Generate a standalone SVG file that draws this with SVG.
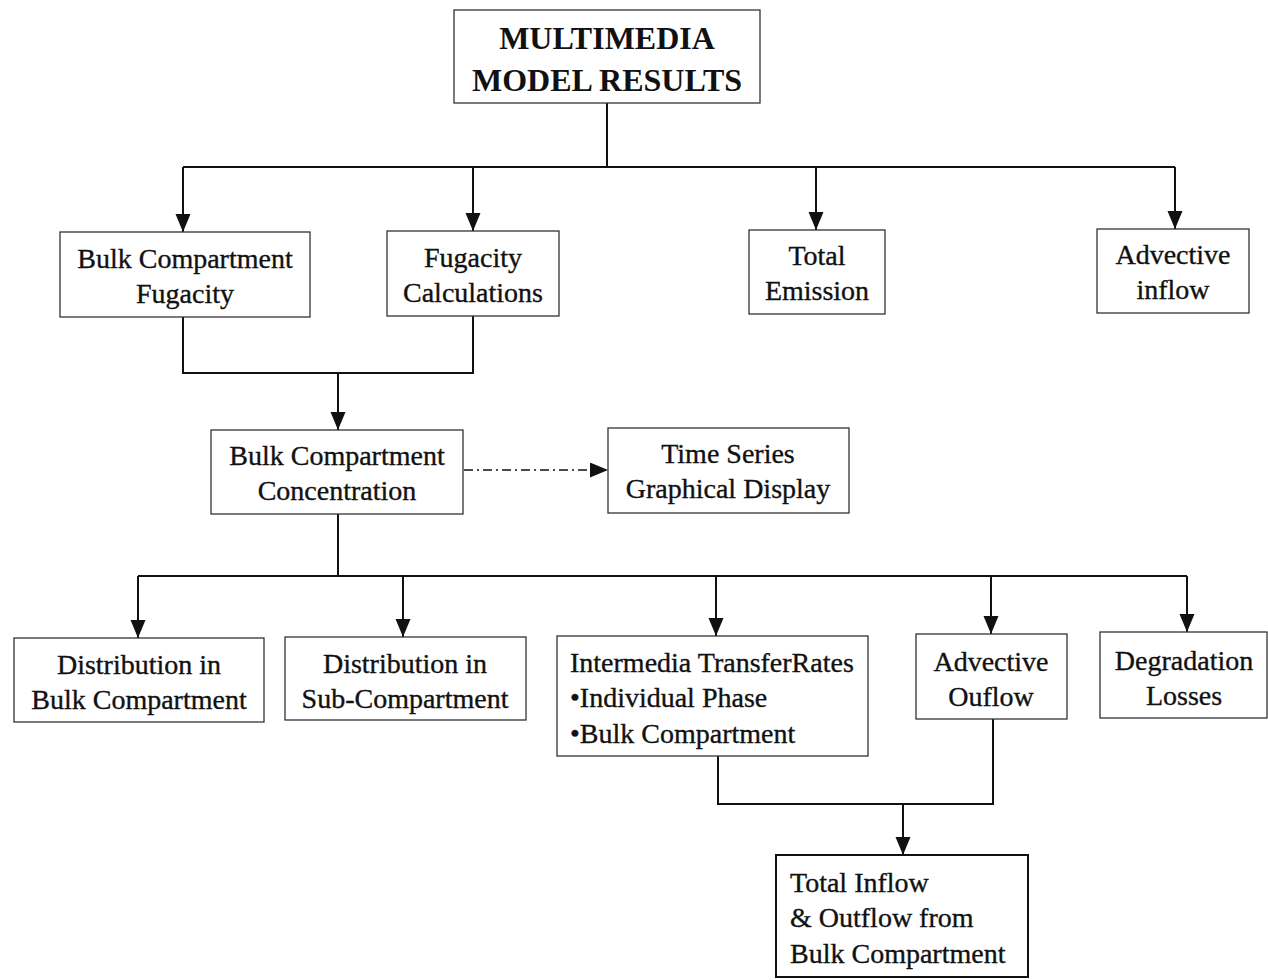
<svg xmlns="http://www.w3.org/2000/svg" width="1268" height="980" viewBox="0 0 1268 980">
  <style>
    .box { fill: #ffffff; stroke: #333333; stroke-width: 1.3; }
    .box-strong { fill: #ffffff; stroke: #111111; stroke-width: 2; }
    .lbl { font-family: "Liberation Serif", "Times New Roman", serif; font-size: 28px; fill: #111111; stroke: #111111; stroke-width: 0.35; }
    .mid { text-anchor: middle; }
    .title { font-family: "Liberation Serif", "Times New Roman", serif; font-size: 32px; font-weight: bold; fill: #111111; text-anchor: middle; }
    .wire { fill: none; stroke: #111111; stroke-width: 2; }
    .dashdot { fill: none; stroke: #111111; stroke-width: 1.6; stroke-dasharray: 9 4 2 4; }
  </style>
  <defs>
    <marker id="arrow" markerUnits="userSpaceOnUse" markerWidth="18" markerHeight="16" refX="18" refY="7.5" orient="auto">
      <path d="M0,0 L18,7.5 L0,15 Z" fill="#111111"/>
    </marker>
  </defs>
  <rect width="1268" height="980" fill="#ffffff"/>

  <!-- connectors -->
  <g id="connectors">
    <!-- top-level fan-out -->
    <path class="wire" d="M607,103 V167"/>
    <path class="wire" d="M183,167 H1175"/>
    <path class="wire" d="M183,167 V232" marker-end="url(#arrow)"/>
    <path class="wire" d="M473,167 V231" marker-end="url(#arrow)"/>
    <path class="wire" d="M816,167 V230" marker-end="url(#arrow)"/>
    <path class="wire" d="M1175,167 V229" marker-end="url(#arrow)"/>
    <!-- merge of fugacity boxes -->
    <path class="wire" d="M183,317 V373 H473 V316"/>
    <path class="wire" d="M338,373 V430" marker-end="url(#arrow)"/>
    <!-- concentration to display -->
    <path class="dashdot" d="M464,470 H608" marker-end="url(#arrow)"/>
    <!-- second fan-out -->
    <path class="wire" d="M338,514 V576"/>
    <path class="wire" d="M138,576 H1187"/>
    <path class="wire" d="M138,576 V638" marker-end="url(#arrow)"/>
    <path class="wire" d="M403,576 V637" marker-end="url(#arrow)"/>
    <path class="wire" d="M716,576 V636" marker-end="url(#arrow)"/>
    <path class="wire" d="M991,576 V634" marker-end="url(#arrow)"/>
    <path class="wire" d="M1187,576 V632" marker-end="url(#arrow)"/>
    <!-- merge into totals -->
    <path class="wire" d="M718,756 V804 H993 V719"/>
    <path class="wire" d="M903,804 V855" marker-end="url(#arrow)"/>
  </g>

  <g id="node-results">
    <rect class="box" x="454" y="10" width="306" height="93"/>
    <text class="title" x="607" y="49">MULTIMEDIA</text>
    <text class="title" x="607" y="91">MODEL RESULTS</text>
  </g>

  <g id="node-bulk-fugacity">
    <rect class="box" x="60" y="232" width="250" height="85"/>
    <text class="lbl mid" x="185" y="268">Bulk Compartment</text>
    <text class="lbl mid" x="185" y="303">Fugacity</text>
  </g>

  <g id="node-fugacity-calc">
    <rect class="box" x="387" y="231" width="172" height="85"/>
    <text class="lbl mid" x="473" y="267">Fugacity</text>
    <text class="lbl mid" x="473" y="302">Calculations</text>
  </g>

  <g id="node-total-emission">
    <rect class="box" x="749" y="230" width="136" height="84"/>
    <text class="lbl mid" x="817" y="265">Total</text>
    <text class="lbl mid" x="817" y="300">Emission</text>
  </g>

  <g id="node-advective-inflow">
    <rect class="box" x="1097" y="229" width="152" height="84"/>
    <text class="lbl mid" x="1173" y="264">Advective</text>
    <text class="lbl mid" x="1173" y="299">inflow</text>
  </g>

  <g id="node-concentration">
    <rect class="box" x="211" y="430" width="252" height="84"/>
    <text class="lbl mid" x="337" y="465">Bulk Compartment</text>
    <text class="lbl mid" x="337" y="500">Concentration</text>
  </g>

  <g id="node-time-series">
    <rect class="box" x="608" y="428" width="241" height="85"/>
    <text class="lbl mid" x="728" y="463">Time Series</text>
    <text class="lbl mid" x="728" y="498">Graphical Display</text>
  </g>

  <g id="node-dist-bulk">
    <rect class="box" x="14" y="638" width="250" height="84"/>
    <text class="lbl mid" x="139" y="674">Distribution in</text>
    <text class="lbl mid" x="139" y="709">Bulk Compartment</text>
  </g>

  <g id="node-dist-sub">
    <rect class="box" x="285" y="637" width="241" height="83"/>
    <text class="lbl mid" x="405" y="673">Distribution in</text>
    <text class="lbl mid" x="405" y="708">Sub-Compartment</text>
  </g>

  <g id="node-intermedia">
    <rect class="box" x="557" y="636" width="311" height="120"/>
    <text class="lbl" x="570" y="672">Intermedia TransferRates</text>
    <text class="lbl" x="570" y="707">•Individual Phase</text>
    <text class="lbl" x="570" y="743">•Bulk Compartment</text>
  </g>

  <g id="node-advective-outflow">
    <rect class="box" x="916" y="634" width="151" height="85"/>
    <text class="lbl mid" x="991" y="671">Advective</text>
    <text class="lbl mid" x="991" y="706">Ouflow</text>
  </g>

  <g id="node-degradation">
    <rect class="box" x="1100" y="632" width="167" height="86"/>
    <text class="lbl mid" x="1184" y="670">Degradation</text>
    <text class="lbl mid" x="1184" y="705">Losses</text>
  </g>

  <g id="node-totals">
    <rect class="box-strong" x="776" y="855" width="252" height="122"/>
    <text class="lbl" x="790" y="892">Total Inflow</text>
    <text class="lbl" x="790" y="927">&amp; Outflow from</text>
    <text class="lbl" x="790" y="963">Bulk Compartment</text>
  </g>
</svg>
